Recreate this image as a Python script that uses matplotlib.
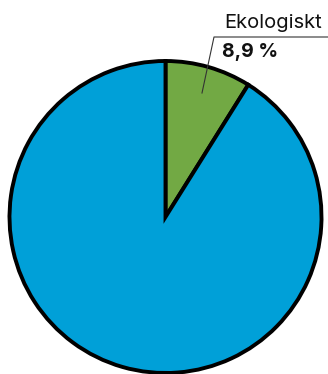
import matplotlib.pyplot as plt

# data
labels = ['Ekologiskt', 'Övrigt']
shares = [8.9, 91.1]
colors = ['#72a944', '#00a0d8']

fig = plt.figure(figsize=(3.28, 3.74), dpi=100)
ax = fig.add_axes([0, 0, 1, 1])

ax.pie(shares, colors=colors, startangle=90, counterclock=False,
       center=(165.5, 157), radius=156,
       wedgeprops=dict(edgecolor='black', linewidth=2.8))
ax.set_xlim(0, 328)
ax.set_ylim(0, 374)
ax.set_aspect('equal')
ax.axis('off')

# label with leader line
ax.plot([202, 214, 328], [281, 337, 337], color='#333333', lw=0.8, clip_on=False)
ax.text(224, 346, labels[0], fontsize=14.5, family='Inter', color='#111111',
        ha='left', va='baseline')
ax.text(222, 317, f'{shares[0]:.1f} %'.replace('.', ','), fontsize=14,
        family='Inter', fontweight='bold', color='#111111', ha='left', va='baseline')

fig.savefig('out.png', dpi=100)
